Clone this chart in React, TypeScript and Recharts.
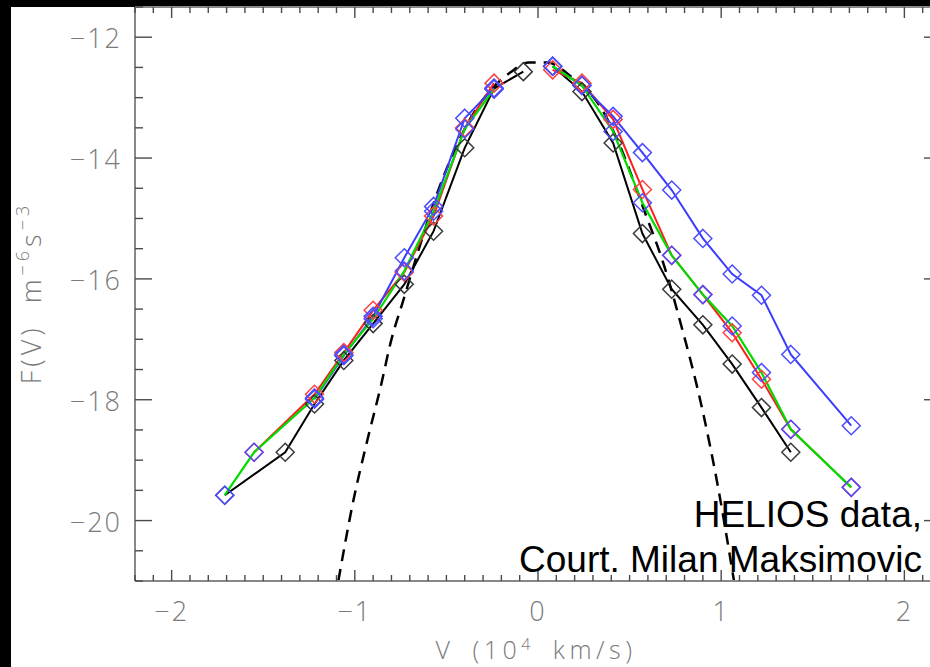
import { ComposedChart, Line, XAxis, YAxis } from "recharts";

// velocity bins (10^4 km/s), anti-sunward half and sunward half
const V_NEG = [-1.71, -1.55, -1.38, -1.22, -1.06, -0.9, -0.73, -0.57, -0.4, -0.24, -0.08];
const V_POS = [0.08, 0.24, 0.41, 0.57, 0.73, 0.9, 1.06, 1.22, 1.38, 1.55, 1.71];

// log10 F(V), null = no measurement in that bin
const BLACK_NEG = [-19.58, null, -18.87, -18.07, -17.35, -16.74, -16.09, -15.21, -13.83, -12.85, -12.57];
const BLACK_POS = [-12.48, -12.9, -13.75, -15.25, -16.17, -16.76, -17.41, -18.13, -18.87, null, null];
const RED_NEG = [null, -18.87, null, -17.91, -17.22, -16.52, -15.89, -14.96, -13.5, -12.76, null];
const RED_POS = [-12.54, -12.76, -13.36, -14.52, -15.61, -16.26, -16.89, -17.66, -18.49, null, -19.45];
const BLUE_NEG = [null, null, null, -17.99, -17.27, -16.62, -15.65, -14.8, -13.34, -12.84, null];
const BLUE_POS = [-12.48, -12.8, -13.31, -13.91, -14.53, -15.33, -15.92, -16.27, -17.25, null, -18.43];
const GREEN_NEG = [-19.58, -18.87, null, -17.97, -17.25, -16.66, -15.87, -14.88, -13.52, -12.86, null];
const GREEN_POS = [-12.48, -12.8, -13.56, -14.74, -15.61, -16.26, -16.78, -17.55, -18.49, null, -19.45];

// maxwellian core (dashed)
const CORE_V = [-1.09, -1.01, -0.93, -0.86, -0.8, -0.74, -0.66, -0.57, -0.46, -0.36, -0.25, -0.15, -0.05, 0.05, 0.18, 0.35, 0.44, 0.59, 0.68, 0.78, 0.9, 0.98, 1.07];
const CORE_F = [-21.0, -19.7, -18.65, -17.8, -17.0, -16.4, -15.6, -14.75, -13.9, -13.3, -12.85, -12.58, -12.42, -12.42, -12.65, -13.2, -13.75, -14.95, -15.7, -16.75, -18.2, -19.4, -21.0];

const X_DOMAIN = [-2.2, 2.2];
const Y_DOMAIN = [-21, -11.5];
const X_TICKS = Array.from({ length: 45 }, (_, i) => Math.round(i - 22) / 10);
const Y_TICKS = Array.from({ length: 20 }, (_, i) => -21 + i * 0.5);

const rows = (vs: number[], fs: (number | null)[]) =>
  vs.map((v, i) => ({ v, f: fs[i] })).filter((r) => r.f !== null);

const TICK_FONT = "'Open Sans', 'DejaVu Sans', sans-serif";
const TICK_COLOR = "#7a7a7a";
const MARK = "#4a4a4a";

const fmt = (v: number) => (v < 0 ? "\u2212" + Math.abs(v) : String(v));
const isMajorX = (v: number) => Math.abs(v - Math.round(v)) < 1e-6;
const isMajorY = (v: number) => Math.abs(v / 2 - Math.round(v / 2)) < 1e-6;

function BottomTick({ x, y, payload }: any) {
  const major = isMajorX(payload.value);
  return (
    <g>
      <line x1={x} y1={y} x2={x} y2={y - (major ? 11 : 6)} stroke={MARK} strokeWidth={1.4} />
      {major && (
        <text x={x} y={y + 40} textAnchor="middle" fill={TICK_COLOR} fontSize={27} fontFamily={TICK_FONT} fontWeight={300} letterSpacing={2}>
          {fmt(payload.value)}
        </text>
      )}
    </g>
  );
}

function TopTick({ x, y, payload }: any) {
  const major = isMajorX(payload.value);
  return <line x1={x} y1={y} x2={x} y2={y + (major ? 11 : 6)} stroke={MARK} strokeWidth={1.4} />;
}

function LeftTick({ x, y, payload }: any) {
  const major = isMajorY(payload.value);
  return (
    <g>
      <line x1={x} y1={y} x2={x + (major ? 17 : 8)} y2={y} stroke={MARK} strokeWidth={1.4} />
      {major && (
        <text x={x - 13} y={y + 11} textAnchor="end" fill={TICK_COLOR} fontSize={27} fontFamily={TICK_FONT} fontWeight={300} letterSpacing={2}>
          {fmt(payload.value)}
        </text>
      )}
    </g>
  );
}

function RightTick({ x, y, payload }: any) {
  const major = isMajorY(payload.value);
  return <line x1={x} y1={y} x2={x - (major ? 17 : 8)} y2={y} stroke={MARK} strokeWidth={1.4} />;
}

const diamond = (color: string) => (props: any) => {
  const { cx, cy, index } = props;
  if (cx == null || cy == null) return <g key={index} />;
  const r = 9;
  return (
    <path
      key={index}
      d={`M${cx},${cy - r}L${cx + r},${cy}L${cx},${cy + r}L${cx - r},${cy}Z`}
      fill="none"
      stroke={color}
      strokeWidth={1.5}
    />
  );
};

type Series = { name: string; neg: (number | null)[]; pos: (number | null)[]; line: string; mark: string; width: number };

const SERIES: Series[] = [
  { name: "black", neg: BLACK_NEG, pos: BLACK_POS, line: "#000000", mark: "#3a3a3a", width: 2 },
  { name: "red", neg: RED_NEG, pos: RED_POS, line: "#ff1e1e", mark: "#ff4040", width: 2 },
  { name: "blue", neg: BLUE_NEG, pos: BLUE_POS, line: "#3c3cff", mark: "#4d4dff", width: 2 },
  { name: "green", neg: GREEN_NEG, pos: GREEN_POS, line: "#00dc00", mark: "#4d4dff", width: 2.2 },
];

const AXIS_LINE = { stroke: "#888", strokeWidth: 2 };

export default function App() {
  return (
    <div style={{ position: "fixed", left: 0, top: 0, width: 930, height: 667, background: "#000", overflow: "hidden" }}>
      <div style={{ position: "absolute", left: 11, top: 7, right: 0, bottom: 0, background: "#fff" }} />
      <div style={{ position: "absolute", left: 0, top: 0 }}>
        <ComposedChart width={960} height={667} margin={{ top: 6, right: 18, bottom: 85, left: 134 }}>
          <XAxis
            xAxisId="b"
            type="number"
            dataKey="v"
            domain={X_DOMAIN}
            ticks={X_TICKS}
            interval={0}
            height={1}
            tickSize={0}
            tickMargin={0}
            tickLine={false}
            tick={BottomTick}
            axisLine={AXIS_LINE}
            allowDataOverflow
          />
          <XAxis
            xAxisId="t"
            orientation="top"
            type="number"
            dataKey="v"
            domain={X_DOMAIN}
            ticks={X_TICKS}
            interval={0}
            height={1}
            tickSize={0}
            tickMargin={0}
            tickLine={false}
            tick={TopTick}
            axisLine={AXIS_LINE}
            allowDataOverflow
          />
          <YAxis
            yAxisId="l"
            type="number"
            domain={Y_DOMAIN}
            ticks={Y_TICKS}
            interval={0}
            width={1}
            tickSize={0}
            tickMargin={0}
            tickLine={false}
            tick={LeftTick}
            axisLine={AXIS_LINE}
            allowDataOverflow
          />
          <YAxis
            yAxisId="r"
            orientation="right"
            type="number"
            domain={Y_DOMAIN}
            ticks={Y_TICKS}
            interval={0}
            width={1}
            tickSize={0}
            tickMargin={0}
            tickLine={false}
            tick={RightTick}
            axisLine={AXIS_LINE}
            allowDataOverflow
          />
          <Line
            xAxisId="b"
            yAxisId="l"
            data={rows(CORE_V, CORE_F)}
            dataKey="f"
            type="monotone"
            stroke="#000"
            strokeWidth={2.5}
            strokeDasharray="12 8"
            dot={false}
            activeDot={false}
            isAnimationActive={false}
          />
          {SERIES.flatMap((s) =>
            [
              { key: "n", data: rows(V_NEG, s.neg) },
              { key: "p", data: rows(V_POS, s.pos) },
            ].map((half) => (
              <Line
                key={s.name + half.key}
                xAxisId="b"
                yAxisId="l"
                data={half.data}
                dataKey="f"
                type="linear"
                stroke={s.line}
                strokeWidth={s.width}
                dot={diamond(s.mark)}
                activeDot={false}
                isAnimationActive={false}
              />
            ))
          )}
        </ComposedChart>
      </div>
      <svg width={930} height={667} style={{ position: "absolute", left: 0, top: 0, pointerEvents: "none" }}>
        <text x={922} y={527} textAnchor="end" fontSize={37} fontFamily="'Liberation Sans', Arial, sans-serif" fill="#000">
          HELIOS data,
        </text>
        <text x={922} y={572} textAnchor="end" fontSize={37} fontFamily="'Liberation Sans', Arial, sans-serif" fill="#000">
          Court. Milan Maksimovic
        </text>
        <text
          x={536}
          y={659}
          textAnchor="middle"
          fontSize={25}
          fontFamily={TICK_FONT}
          fontWeight={300}
          fill={TICK_COLOR}
          letterSpacing={4.5}
          wordSpacing={7}
        >
          {"V (10"}
          <tspan fontSize={16} dy={-9}>4</tspan>
          <tspan dy={9}>{" km/s)"}</tspan>
        </text>
        <text
          transform="translate(41,293) rotate(-90)"
          textAnchor="middle"
          fontSize={27}
          fontFamily={TICK_FONT}
          fontWeight={300}
          fill={TICK_COLOR}
          letterSpacing={4}
          wordSpacing={10}
        >
          {"F(V) m"}
          <tspan fontSize={18} dy={-12}>{"\u22126"}</tspan>
          <tspan dy={12}>s</tspan>
          <tspan fontSize={18} dy={-12}>{"\u22123"}</tspan>
        </text>
      </svg>
    </div>
  );
}
